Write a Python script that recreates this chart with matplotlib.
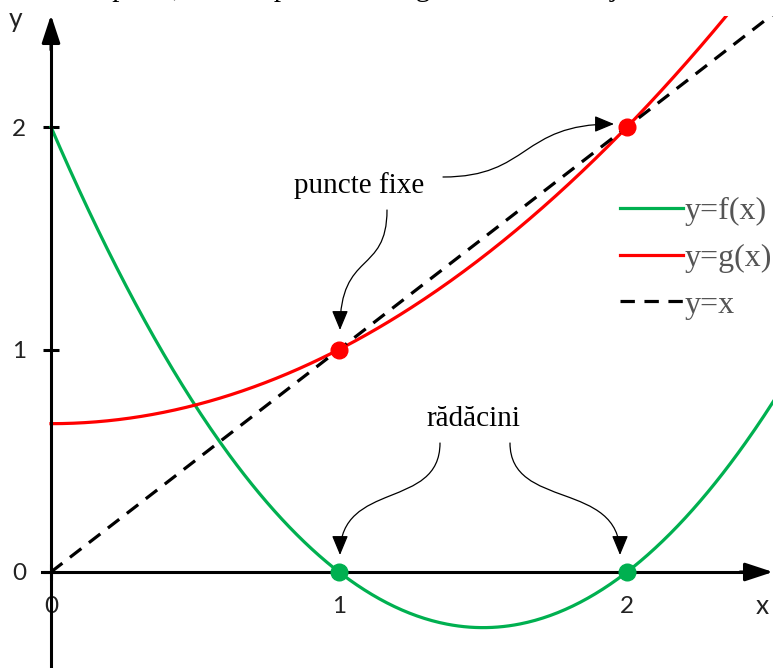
import numpy as np
import matplotlib
matplotlib.use('Agg')
import matplotlib.pyplot as plt
from matplotlib.path import Path
from matplotlib.patches import FancyArrowPatch, Rectangle

# f(x) = x^2 - 3x + 2,  g(x) = (x^2 + 2) / 3
f_coef = [1.0, -3.0, 2.0]
g_coef = [1.0 / 3.0, 0.0, 2.0 / 3.0]
roots_x = [1, 2]
fixed_x = [1, 2]
x_ticks = [0, 1, 2]
y_ticks = [0, 1, 2]
legend_labels = ['y=f(x)', 'y=g(x)', 'y=x']

GREEN = '#00B050'
RED = '#FF0000'
W, H = 773, 668
X0, Y0 = 51, 572          # origin in pixels
SX, SY = 288.0, 222.5     # pixels per unit


def px(x, y):
    """pixel position -> data coords"""
    return ((x - X0) / SX, (Y0 - y) / SY)


fig = plt.figure(figsize=(W / 100, H / 100), dpi=100)
ax = fig.add_axes([0, 0, 1, 1])
ax.set_xlim(-X0 / SX, (W - X0) / SX)
ax.set_ylim(-(H - Y0) / SY, Y0 / SY)

# plotting window for the curves stops at y = 2.5
window = Rectangle((-0.2, -0.45), 3.0, 2.95, transform=ax.transData,
                   fill=False, visible=False)
ax.add_patch(window)

xs = np.linspace(0, 2.6, 400)
curves = [
    ax.plot(xs, np.polyval(f_coef, xs), color=GREEN, lw=2.3, label=legend_labels[0]),
    ax.plot(xs, np.polyval(g_coef, xs), color=RED, lw=2.3, label=legend_labels[1]),
    ax.plot(xs, xs, color='black', lw=2.3, ls=(0, (4.5, 3.0)), label=legend_labels[2]),
]
for (line,) in curves:
    line.set_clip_path(window)

ax.plot(roots_x, np.polyval(f_coef, roots_x), 'o', color=GREEN, ms=12, zorder=5)
ax.plot(fixed_x, np.polyval(g_coef, fixed_x), 'o', color=RED, ms=12, zorder=5)

# axes through the origin
for side in ('top', 'right'):
    ax.spines[side].set_visible(False)
ax.spines['left'].set_position(('data', 0))
ax.spines['bottom'].set_position(('data', 0))
ax.spines['left'].set_linewidth(2.2)
ax.spines['bottom'].set_linewidth(2.2)
ax.spines['bottom'].set_bounds(-0.03, 2.45)
ax.spines['left'].set_bounds(-0.45, 2.45)
ax.set_xticks(x_ticks)
ax.set_yticks(y_ticks)
ax.tick_params(direction='inout', length=12, width=2.2, labelsize=17.5,
               labelcolor='#222222')
ax.tick_params(axis='x', pad=11)
ax.tick_params(axis='y', pad=12)
for lab in ax.get_xticklabels() + ax.get_yticklabels():
    lab.set_family('Lato')

# arrow heads at the axis ends
ax.annotate('', xy=px(773, Y0), xytext=px(740, Y0),
            arrowprops=dict(arrowstyle='-|>,head_length=0.85,head_width=0.28',
                            color='black', lw=2.2, mutation_scale=20,
                            shrinkA=0, shrinkB=0))
ax.annotate('', xy=px(X0, 15), xytext=px(X0, 50),
            arrowprops=dict(arrowstyle='-|>,head_length=0.85,head_width=0.28',
                            color='black', lw=2.2, mutation_scale=20,
                            shrinkA=0, shrinkB=0))
ax.text(*px(762, 607), 'x', fontsize=19, family='Lato', color='#222222',
        ha='center', va='center')
ax.text(*px(16, 20), 'y', fontsize=19, family='Lato', color='#222222',
        ha='center', va='center')

serif = 'Liberation Serif'
ax.text(*px(359, 186), 'puncte fixe', fontsize=21, family=serif,
        ha='center', va='center')
ax.text(*px(473, 419), 'rădăcini', fontsize=21, family=serif,
        ha='center', va='center')

# curved call-out arrows (cubic Bezier, pixel control points)
callouts = [
    [(387, 210), (387, 275), (340, 250), (340, 330)],
    [(443, 177), (530, 177), (520, 124), (614, 124)],
    [(440, 443), (440, 510), (340, 480), (340, 555)],
    [(510, 443), (510, 510), (620, 480), (620, 555)],
]
for pts in callouts:
    verts = [px(*p) for p in pts]
    path = Path(verts, [Path.MOVETO, Path.CURVE4, Path.CURVE4, Path.CURVE4])
    ax.add_patch(FancyArrowPatch(path=path,
                                 arrowstyle='-|>,head_length=0.6,head_width=0.25',
                                 mutation_scale=20, lw=0.9, color='black',
                                 shrinkA=0, shrinkB=0))

ax.legend(loc='upper left', bbox_to_anchor=(620 / W, 1 - 197 / H),
          frameon=False, prop={'family': serif, 'size': 23},
          labelcolor='#555555', handlelength=1.97, handletextpad=0.05,
          labelspacing=0.54, borderpad=0, borderaxespad=0)

# caption line running above the top edge
fig.text(-14 / W, 1 + 4 / H,
         'Într-un timp util, fiecare punct fix în g este evident deja',
         fontsize=21, family=serif, ha='left', va='baseline')

fig.savefig('out.png', dpi=100)
